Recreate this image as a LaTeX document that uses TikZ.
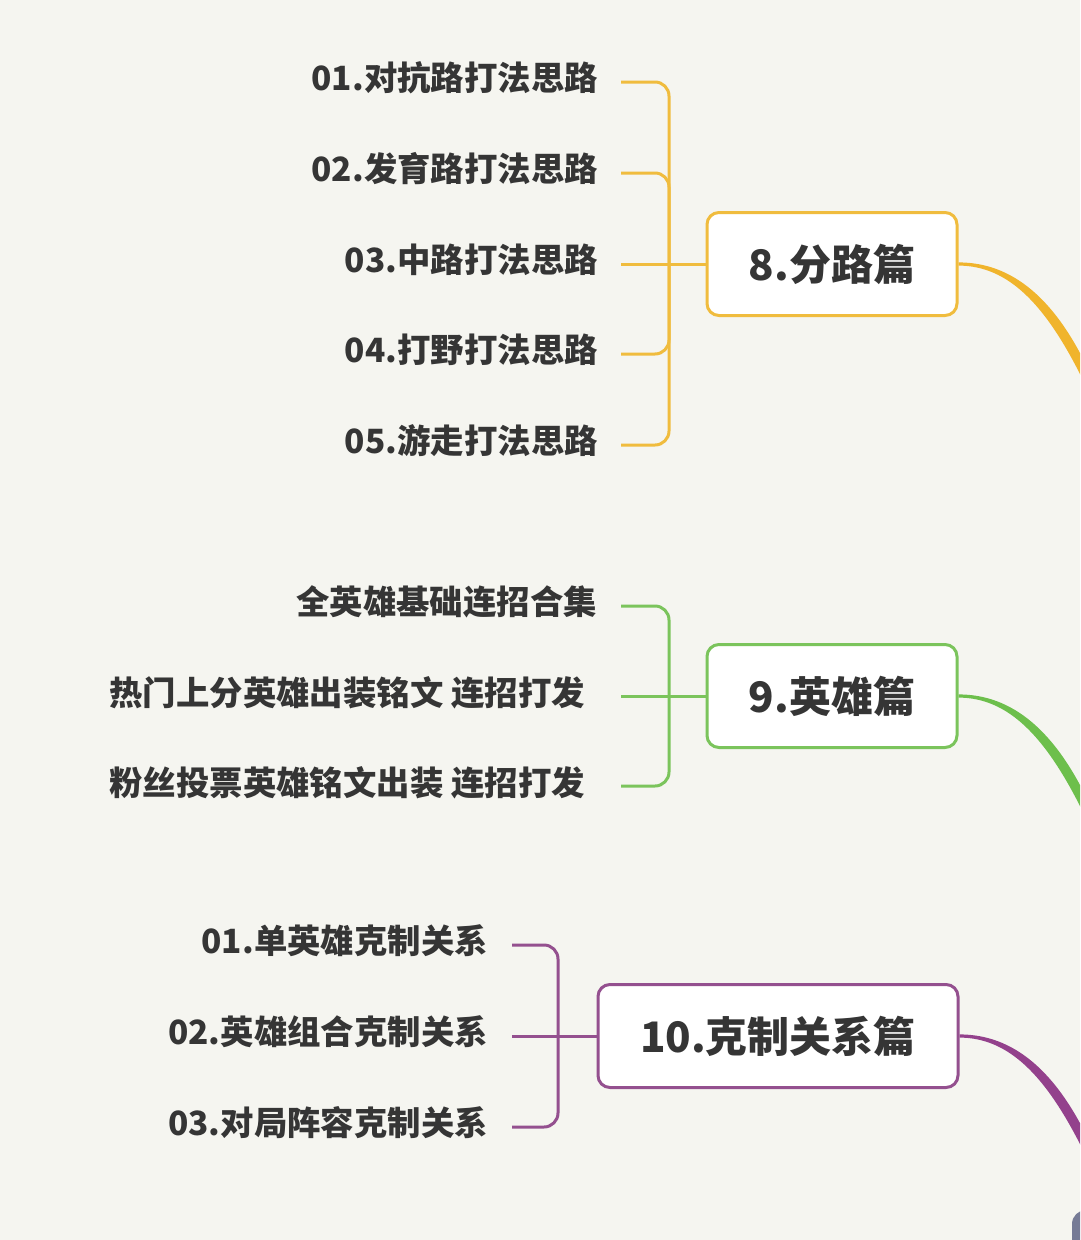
\documentclass[tikz,border=0pt]{standalone}
\usepackage{fontspec}
\newfontfamily\cjk{Noto Sans CJK SC}
\usetikzlibrary{calc}
\definecolor{bg}{HTML}{F5F5F0}
\definecolor{ink}{HTML}{353535}
\definecolor{yel}{HTML}{F0BC3E}
\definecolor{yelc}{HTML}{F0B42C}
\definecolor{grn}{HTML}{7BC45C}
\definecolor{grnc}{HTML}{6DBF4C}
\definecolor{pur}{HTML}{94508F}
\definecolor{purc}{HTML}{93418C}
\definecolor{hub}{HTML}{767B96}
\newcommand\tapercurve[2]{%
  \fill[#1] ($(#2)+(0,-1.6)$) .. controls ($(#2)+(54,-1.6)$) and ($(#2)+(97,35)$) .. ($(#2)+(131,108)$)
    -- ($(#2)+(123,113)$) .. controls ($(#2)+(87,41)$) and ($(#2)+(50,1.6)$) .. ($(#2)+(0,1.6)$) -- cycle;}
\begin{document}
\begin{tikzpicture}[x=1pt,y=-1pt,
  item/.style={anchor=east, inner sep=0pt, text=ink, font=\cjk\bfseries\fontsize{33.4}{38}\selectfont},
  topic/.style={draw, line width=3pt, rounded corners=12pt, fill=white, text=ink, inner sep=0pt,
    font=\cjk\bfseries\fontsize{42}{50}\selectfont},
  br/.style={line width=3pt, rounded corners=14pt}]
\clip (0,0) rectangle (1080,1240);
\fill[bg] (0,0) rectangle (1080,1240);

% ---------- group 8 ----------
\node[topic, draw=yel, minimum width=250pt, minimum height=103pt] (b8) at (832,264) {8.分路篇};
\node[item] (t81) at (598,78) {01.对抗路打法思路};
\node[item] (t82) at (598,169) {02.发育路打法思路};
\node[item] (t83) at (598,260) {03.中路打法思路};
\node[item] (t84) at (598,350) {04.打野打法思路};
\node[item] (t85) at (598,441) {05.游走打法思路};
\coordinate (s81) at (621,82);
\coordinate (s82) at (621,173);
\coordinate (s83) at (621,264);
\coordinate (s84) at (621,354);
\coordinate (s85) at (621,445);
\draw[br, yel] (s81) -- (669,82) -- (669,264);
\draw[br, yel] (s82) -- (669,173) -- (669,264);
\draw[br, yel] (s84) -- (669,354) -- (669,264);
\draw[br, yel] (s85) -- (669,445) -- (669,264);
\draw[br, yel] (s83) -- (b8.west);
\tapercurve{yelc}{b8.east}

% ---------- group 9 ----------
\node[topic, draw=grn, minimum width=250pt, minimum height=103pt] (b9) at (832,696) {9.英雄篇};
\node[item] (t91) at (597,602) {全英雄基础连招合集};
\node[item] (t92) at (585,693) {热门上分英雄出装铭文 连招打发};
\node[item] (t93) at (585,783) {粉丝投票英雄铭文出装 连招打发};
\coordinate (s91) at (621,606);
\coordinate (s92) at (621,696);
\coordinate (s93) at (621,786);
\draw[br, grn] (s91) -- (669,606) -- (669,696);
\draw[br, grn] (s93) -- (669,786) -- (669,696);
\draw[br, grn] (s92) -- (b9.west);
\tapercurve{grnc}{b9.east}

% ---------- group 10 ----------
\node[topic, draw=pur, minimum width=360pt, minimum height=103pt] (b10) at (778,1036) {10.克制关系篇};
\node[item] (t101) at (488,941) {01.单英雄克制关系};
\node[item] (t102) at (488,1032) {02.英雄组合克制关系};
\node[item] (t103) at (488,1123) {03.对局阵容克制关系};
\coordinate (s101) at (512,945);
\coordinate (s102) at (512,1036);
\coordinate (s103) at (512,1127);
\draw[br, pur] (s101) -- (558,945) -- (558,1036);
\draw[br, pur] (s103) -- (558,1127) -- (558,1036);
\draw[br, pur] (s102) -- (b10.west);
\tapercurve{purc}{b10.east}

% ---------- partly visible centre topic ----------
\fill[hub, rounded corners=14pt] (1072,1210) rectangle (1160,1300);
\end{tikzpicture}
\end{document}
